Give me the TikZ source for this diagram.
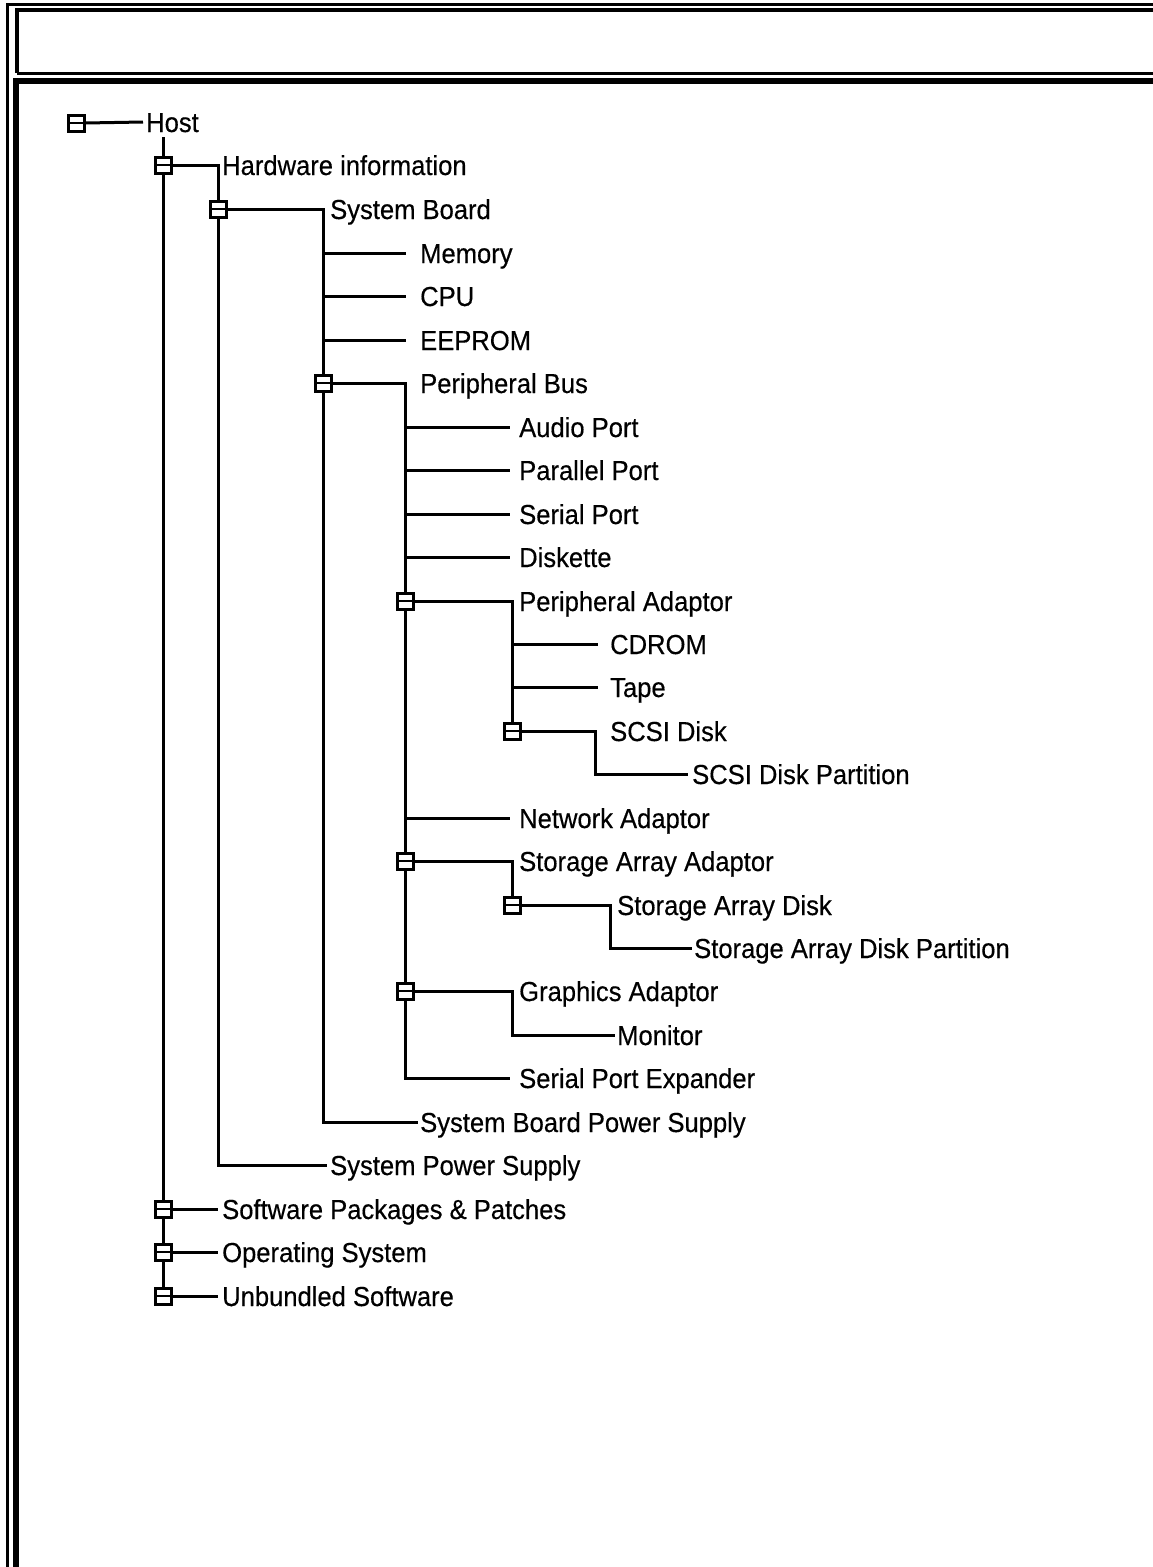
\documentclass[tikz,border=0pt]{standalone}
\usepackage{fontspec}
\setmainfont[FakeStretch=0.93,FakeBold=0.4]{Liberation Sans}
\begin{document}
\begin{tikzpicture}[x=1pt,y=-1pt,
  ln/.style={line width=3pt},
  lbl/.style={anchor=west,inner sep=0pt,text height=20pt,text depth=0pt,font=\fontsize{27.5}{30}\selectfont},
  tbox/.style={inner sep=0pt,minimum width=18pt,minimum height=18pt}]
\useasboundingbox (0,0) rectangle (1153,1567);
\clip (0,0) rectangle (1153,1567);
% frame
\draw[line width=3pt] (7,1600) -- (7,4) -- (1200,4);
\draw[line width=4pt] (17,73) -- (17,10) -- (1200,10);
\draw[line width=3pt] (17,73) -- (1200,73);
\draw[line width=5.5pt] (16,1600) -- (16,81) -- (1200,81);
% texts
\node[lbl] (host) at (146,122) {Host};
\node[lbl] (hw) at (222,165) {Hardware information};
\node[lbl] (sb) at (330,209) {System Board};
\node[lbl] (mem) at (420,253) {Memory};
\node[lbl] (cpu) at (420,296) {CPU};
\node[lbl] (eep) at (420,340) {EEPROM};
\node[lbl] (pbus) at (420,383) {Peripheral Bus};
\node[lbl] (audio) at (519,427) {Audio Port};
\node[lbl] (par) at (519,470) {Parallel Port};
\node[lbl] (ser) at (519,514) {Serial Port};
\node[lbl] (disk) at (519,557) {Diskette};
\node[lbl] (pa) at (519,601) {Peripheral Adaptor};
\node[lbl] (cd) at (610,644) {CDROM};
\node[lbl] (tape) at (610,687) {Tape};
\node[lbl] (sd) at (610,731) {SCSI Disk};
\node[lbl] (sdp) at (692,774) {SCSI Disk Partition};
\node[lbl] (net) at (519,818) {Network Adaptor};
\node[lbl] (saa) at (519,861) {Storage Array Adaptor};
\node[lbl] (sadisk) at (617,905) {Storage Array Disk};
\node[lbl] (sadp) at (694,948) {Storage Array Disk Partition};
\node[lbl] (ga) at (519,991) {Graphics Adaptor};
\node[lbl] (mon) at (617,1035) {Monitor};
\node[lbl] (spe) at (519,1078) {Serial Port Expander};
\node[lbl] (sbps) at (420,1122) {System Board Power Supply};
\node[lbl] (sps) at (330,1165) {System Power Supply};
\node[lbl] (sw) at (222,1209) {Software Packages \& Patches};
\node[lbl] (os) at (222,1252) {Operating System};
\node[lbl] (us) at (222,1296) {Unbundled Software};
% boxes (positions only; drawn last)
\node[tbox] (bHost) at (76,123) {};
\node[tbox] (bHW) at (163,165) {};
\node[tbox] (bSB) at (218,209) {};
\node[tbox] (bPB) at (323,383) {};
\node[tbox] (bPA) at (405,601) {};
\node[tbox] (bSCSI) at (512,731) {};
\node[tbox] (bSAA) at (405,861) {};
\node[tbox] (bSAD) at (512,905) {};
\node[tbox] (bGA) at (405,991) {};
\node[tbox] (bSW) at (163,1209) {};
\node[tbox] (bOS) at (163,1252) {};
\node[tbox] (bUS) at (163,1296) {};
% connectors
\draw[ln] (bHost.east) -- ([xshift=-3pt]host.west);
\draw[ln] ([yshift=-5pt]host.south -| bHW.north) -- (bHW.north);
\draw[ln] (bHW.south) -- (bSW.north);
\draw[ln] (bSW.south) -- (bOS.north);
\draw[ln] (bOS.south) -- (bUS.north);
\draw[ln] (bSW.east) -- ([xshift=-4pt]sw.west);
\draw[ln] (bOS.east) -- ([xshift=-4pt]os.west);
\draw[ln] (bUS.east) -- ([xshift=-4pt]us.west);
\draw[ln] (bHW.east) -| (bSB.north);
\draw[ln] (bSB.south) |- ([xshift=-3pt]sps.west);
\draw[ln] (bSB.east) -| (bPB.north);
\draw[ln] (bPB |- mem.west) -- ([xshift=-14pt]mem.west);
\draw[ln] (bPB |- cpu.west) -- ([xshift=-14pt]cpu.west);
\draw[ln] (bPB |- eep.west) -- ([xshift=-14pt]eep.west);
\draw[ln] (bPB.south) |- ([xshift=-2pt]sbps.west);
\draw[ln] (bPB.east) -| (bPA.north);
\draw[ln] (bPA |- audio.west) -- ([xshift=-9pt]audio.west);
\draw[ln] (bPA |- par.west) -- ([xshift=-9pt]par.west);
\draw[ln] (bPA |- ser.west) -- ([xshift=-9pt]ser.west);
\draw[ln] (bPA |- disk.west) -- ([xshift=-9pt]disk.west);
\draw[ln] (bPA.south) -- (bSAA.north);
\draw[ln] (bPA |- net.west) -- ([xshift=-9pt]net.west);
\draw[ln] (bSAA.south) -- (bGA.north);
\draw[ln] (bGA.south) |- ([xshift=-9pt]spe.west);
\draw[ln] (bPA.east) -| (bSCSI.north);
\draw[ln] (bSCSI |- cd.west) -- ([xshift=-12pt]cd.west);
\draw[ln] (bSCSI |- tape.west) -- ([xshift=-12pt]tape.west);
\draw[ln] (bSCSI.east) -| ([xshift=-15pt]sd.west) |- ([xshift=-4pt]sdp.west);
\draw[ln] (bSAA.east) -| (bSAD.north);
\draw[ln] (bSAD.east) -| ([xshift=-7pt]sadisk.west) |- ([xshift=-2pt]sadp.west);
\draw[ln] (bGA.east) -| ([xshift=-7pt]ga.west) |- ([xshift=-2pt]mon.west);
% boxes on top
\foreach \b in {bHost,bHW,bSB,bPB,bPA,bSCSI,bSAA,bSAD,bGA,bSW,bOS,bUS}{
  \draw[line width=3pt,fill=white] ([xshift=-8pt,yshift=-8pt]\b.center) rectangle ([xshift=8pt,yshift=8pt]\b.center);
  \draw[line width=2.2pt] ([xshift=-8pt]\b.center) -- ([xshift=8pt]\b.center);
}
\end{tikzpicture}
\end{document}
